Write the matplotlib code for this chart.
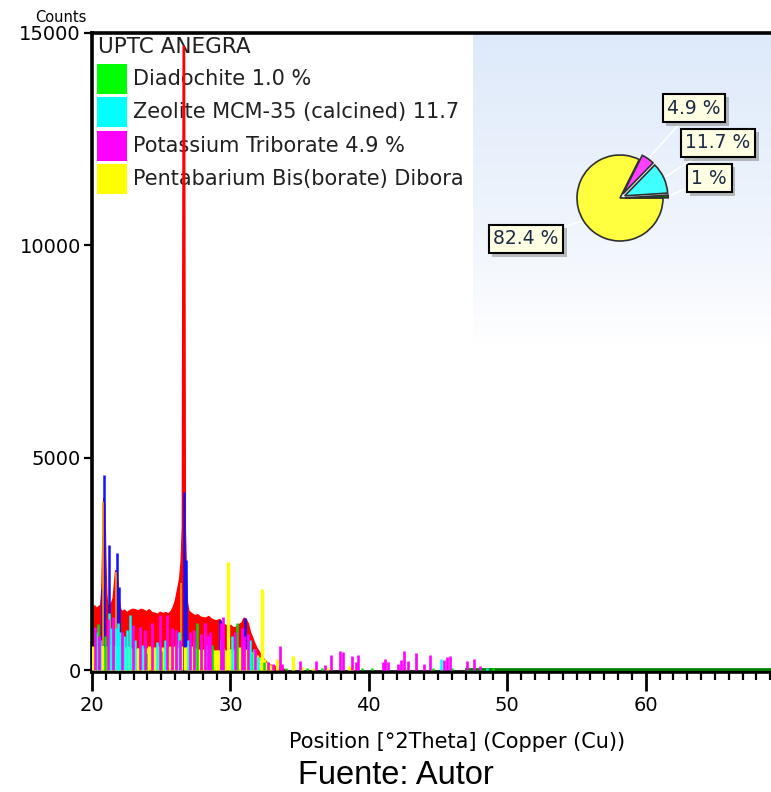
import numpy as np
import matplotlib
matplotlib.use("Agg")
import matplotlib.pyplot as plt
import matplotlib.patheffects as pe
from matplotlib.patches import Rectangle
from matplotlib.ticker import MultipleLocator

plt.rcParams["font.family"] = ["DejaVu Sans"]

# observed pattern (red)
red_x = [20.0, 20.15, 20.3, 20.45, 20.6, 20.68, 20.75, 20.82, 20.88, 20.95, 21.02, 21.1,
         21.2, 21.35, 21.5, 21.6, 21.68, 21.75, 21.82, 21.9, 21.98, 22.1, 22.3, 22.5,
         22.7, 22.9, 23.1, 23.3, 23.5, 23.7, 23.9, 24.1, 24.3, 24.5, 24.7, 24.9, 25.1,
         25.3, 25.5, 25.7, 25.85, 26.0, 26.15, 26.3, 26.42, 26.5, 26.56, 26.6, 26.64,
         26.7, 26.76, 26.85, 26.95, 27.2, 27.4, 27.6, 27.8, 28.0, 28.2, 28.4, 28.6, 28.8,
         29.0, 29.2, 29.4, 29.6, 29.8, 30.0, 30.2, 30.4, 30.6, 30.8, 30.95, 31.1, 31.25,
         31.4, 31.55, 31.7, 31.85, 32.0, 32.15, 32.3, 32.45, 32.6, 32.8, 33.0, 33.3,
         33.6, 34.0]
red_y = [1480, 1520, 1460, 1500, 1540, 1900, 2950, 4050, 3900, 2700, 1800, 1500,
         1520, 1560, 1700, 2050, 2350, 2300, 2100, 1750, 1500, 1380, 1420, 1360,
         1410, 1440, 1430, 1400, 1440, 1420, 1380, 1430, 1360, 1350, 1320, 1370, 1340,
         1360, 1330, 1400, 1500, 1650, 1900, 2150, 2600, 3400, 14700, 14700, 14600,
         3300, 2500, 1600, 1400, 1330, 1290, 1310, 1260, 1240, 1230, 1270, 1210, 1180,
         1170, 1200, 1090, 1070, 1040, 1060, 1000, 1020, 1080, 1120, 1230, 1200, 1100,
         900, 780, 650, 540, 460, 380, 300, 240, 190, 140, 110, 90,
         70, 0]

# blue peak sticks
blue_pos = [20.7, 20.9, 21.2, 21.78, 21.97, 26.62, 26.8, 29.25, 31.05]
blue_h = [1900, 4600, 2940, 2750, 1950, 4200, 2600, 1180, 1220]

# Pentabarium Bis(borate) Diborate (yellow)
yellow_pos = [20.05, 20.15, 20.3, 20.45, 20.6, 20.72, 20.9, 21.05, 21.2, 21.35, 21.5, 21.65,
              21.8, 21.95, 22.1, 22.25, 22.4, 22.55, 22.7, 22.85, 23.0, 23.15, 23.3, 23.4,
              23.5, 23.6, 23.7, 23.8, 23.9, 24.0, 24.15, 24.3, 24.45, 24.6, 24.75, 24.9,
              25.05, 25.2, 25.35, 25.5, 25.65, 25.8, 25.95, 26.1, 26.25, 26.45, 26.7, 26.9,
              27.05, 27.2, 27.35, 27.5, 27.65, 27.8, 27.95, 28.1, 28.25, 28.4, 28.55, 28.7,
              28.85, 29.0, 29.15, 29.3, 29.45, 29.6, 29.85, 30.0, 30.15, 30.3, 30.45, 30.6,
              30.75, 30.9, 31.05, 31.2, 31.35, 31.5, 31.65, 31.8, 31.95, 32.1, 32.3, 32.45,
              32.6, 32.8, 33.0, 33.4, 34.55, 35.2, 36.0, 37.0, 38.6, 38.8]
yellow_h = [560, 540, 580, 530, 560, 600, 540, 560, 520, 580, 560, 590,
            540, 560, 530, 560, 510, 560, 540, 520, 540, 500, 520, 510,
            500, 510, 500, 510, 500, 520, 560, 530, 550, 520, 560, 530,
            550, 520, 560, 540, 560, 520, 560, 540, 520, 560, 540, 560,
            520, 560, 540, 520, 500, 480, 500, 480, 490, 500, 480, 500,
            480, 470, 480, 500, 520, 480, 2540, 500, 480, 500, 520, 540,
            500, 520, 480, 500, 460, 420, 400, 380, 360, 300, 1900, 250,
            180, 150, 120, 260, 330, 80, 60, 70, 100, 120]
# yellow sticks seen through the red peaks (orange)
orange_pos = [20.8, 21.74, 26.45]
orange_h = [3950, 2300, 2050]

# Zeolite MCM-35 (cyan)
cyan_pos = [20.3, 20.55, 21.25, 21.4, 21.7, 21.85, 22.0, 22.3, 22.5, 22.75, 23.1, 23.6,
            24.7, 25.3, 26.1, 26.3, 26.9, 27.4, 28.3, 29.3, 30.1, 30.9, 31.4, 31.7,
            32.0, 45.22, 48.5]
cyan_h = [900, 700, 1340, 1000, 1000, 1100, 900, 800, 950, 1300, 700, 600,
          650, 700, 600, 900, 700, 650, 600, 700, 800, 650, 700, 500,
          300, 260, 50]

# Potassium Triborate (magenta)
magenta_pos = [20.2, 20.5, 21.15, 21.55, 22.2, 22.95, 23.5, 23.85, 24.3, 24.9, 25.45, 25.75,
               26.1, 26.35, 27.1, 27.4, 27.9, 28.15, 28.4, 28.55, 29.3, 29.45, 30.3, 30.8,
               31.0, 31.3, 31.8, 32.7, 33.1, 33.6, 33.75, 35.0, 36.2, 36.8, 37.27, 37.9,
               38.1, 38.76, 39.07, 39.24, 41.05, 41.17, 41.4, 42.13, 42.3, 42.57, 42.86,
               43.39, 44.0, 44.42, 45.4, 45.66, 45.87, 47.07, 47.6, 48.0]
magenta_h = [1020, 800, 1200, 1250, 900, 1050, 1020, 950, 1100, 1300, 1300, 1000,
             950, 700, 900, 940, 850, 1100, 800, 900, 1100, 1250, 900, 1000,
             800, 850, 500, 200, 150, 570, 150, 210, 210, 130, 360, 445,
             420, 330, 200, 360, 190, 260, 200, 140, 230, 440, 210,
             400, 140, 360, 230, 300, 330, 210, 260, 100]

# Diadochite (green)
green_pos = [20.4, 20.95, 21.5, 22.0, 23.9, 25.0, 27.6, 28.7, 30.45, 31.5, 32.4, 34.0,
             35.5, 36.6, 39.5, 40.2, 44.6, 46.0, 49.0]
green_h = [1080, 800, 600, 500, 400, 450, 1100, 600, 1100, 400, 200, 40,
           60, 40, 60, 50, 60, 50, 40]
green_trace_x = [47.0, 69.1]
green_trace_y = [30, 30]

phase_names = ["Diadochite 1.0 %", "Zeolite MCM-35 (calcined) 11.7",
               "Potassium Triborate 4.9 %", "Pentabarium Bis(borate) Dibora"]
phase_colors = ["#00ff00", "#00ffff", "#ff00ff", "#ffff00"]

pie_values = [82.4, 1.0, 11.7, 4.9]
pie_colors = ["#ffff40", "#007a00", "#40ffff", "#ff40ff"]
pie_labels = ["82.4 %", "1 %", "11.7 %", "4.9 %"]

W, H = 771, 792
fig = plt.figure(figsize=(W / 100, H / 100), dpi=100)
ax = fig.add_axes([92 / W, 1 - 672 / H, 679 / W, 639 / H])
ax.set_xlim(20, 69.05)
ax.set_ylim(-45, 15000)

# light blue gradient panel behind the pie
grad = np.linspace(0, 1, 256).reshape(-1, 1) ** 0.8
top = np.array([0.87, 0.915, 0.98])
bot = np.array([1.0, 1.0, 1.0])
img = bot + (top - bot) * grad
ax.imshow(img[:, None, :].repeat(2, axis=1), extent=[0.561, 1.0, 0.515, 1.0],
          transform=ax.transAxes, origin="lower", aspect="auto", zorder=0)

ax.fill_between(red_x, 0, red_y, color="red", lw=1.2, edgecolor="red", zorder=2)
ax.vlines(blue_pos, 0, blue_h, colors="#1010ff", lw=1.8, zorder=3)
ax.vlines(yellow_pos, 0, yellow_h, colors="#ffff00", lw=2.4, zorder=4)
ax.vlines(orange_pos, 600, orange_h, colors="#ff9900", lw=1.2, zorder=4)
ax.plot(green_trace_x, green_trace_y, color="#008000", lw=2, zorder=5)
ax.vlines(green_pos, 0, green_h, colors="#00dd00", lw=1.8, zorder=5)
ax.vlines(cyan_pos, 0, cyan_h, colors="#00ffff", lw=1.8, zorder=5)
ax.vlines(magenta_pos, 0, magenta_h, colors="#ff00ff", lw=1.9, zorder=5)

ax.set_xticks([20, 30, 40, 50, 60])
ax.xaxis.set_minor_locator(MultipleLocator(1))
ax.set_yticks([0, 5000, 10000, 15000])
ax.tick_params(axis="x", which="major", length=14, width=2, labelsize=14, pad=3)
ax.tick_params(axis="x", which="minor", length=6, width=1.6)
ax.tick_params(axis="y", length=6, width=1.6, labelsize=14, pad=2)
ax.spines["right"].set_visible(False)
for s in ("left", "top", "bottom"):
    ax.spines[s].set_linewidth(2.6)

# legend drawn by hand
def axfrac(px, py):
    return (px - 92) / 679, (672 - py) / 639

tx, ty = axfrac(98, 47)
ax.text(tx, ty, "UPTC ANEGRA", transform=ax.transAxes, fontsize=15.5,
        va="center", ha="left", color="#202020", zorder=1)
for i, (name, col) in enumerate(zip(phase_names, phase_colors)):
    yc = 79 + i * 33.3
    x0, y0 = axfrac(97, yc + 15)
    ax.add_patch(Rectangle((x0, y0), 30 / 679, 30 / 639, transform=ax.transAxes,
                           facecolor=col, edgecolor="none", zorder=1))
    lx, ly = axfrac(133, yc)
    ax.text(lx, ly, name, transform=ax.transAxes, fontsize=15,
            va="center", ha="left", color="#202020", zorder=1)

fig.text(35 / W, 1 - 18 / H, "Counts", fontsize=10.5, va="center", ha="left")
fig.text(457 / W, 1 - 742 / H, "Position [°2Theta] (Copper (Cu))", fontsize=15,
         va="center", ha="center")
fig.text(396 / W, 1 - 776 / H, "Fuente: Autor", fontsize=23.5, va="center",
         ha="center", family="Liberation Sans")

# composition pie
pax = fig.add_axes([570 / W, 1 - 248 / H, 100 / W, 100 / H])
wedges, _ = pax.pie(pie_values, colors=pie_colors, startangle=63.4,
                    explode=[0, 0.13, 0.13, 0.13], radius=1.075,
                    wedgeprops=dict(edgecolor="#303030", linewidth=1.2))
pax.set_xlim(-1.25, 1.25)
pax.set_ylim(-1.25, 1.25)
pax.set_aspect("equal")
pax.axis("off")

label_px = [(526, 239), (709, 178), (718, 143), (694, 108)]
for w, lab, (px, py) in zip(wedges, pie_labels, label_px):
    ang = np.deg2rad((w.theta1 + w.theta2) / 2)
    cx, cy = w.center
    xy = (cx + w.r * np.cos(ang), cy + w.r * np.sin(ang))
    t = pax.annotate(lab, xy=xy, xytext=(px, H - py), textcoords="figure pixels",
                     ha="center", va="center", fontsize=13.5, color="#1c2a44",
                     annotation_clip=False,
                     bbox=dict(boxstyle="square,pad=0.25", fc="#ffffe4", ec="black", lw=1.5),
                     arrowprops=dict(arrowstyle="-", color="white", lw=1.2))
    t.get_bbox_patch().set_path_effects(
        [pe.SimplePatchShadow(offset=(2.5, -2.5), alpha=0.35), pe.Normal()])

fig.savefig("out.png", dpi=100)
